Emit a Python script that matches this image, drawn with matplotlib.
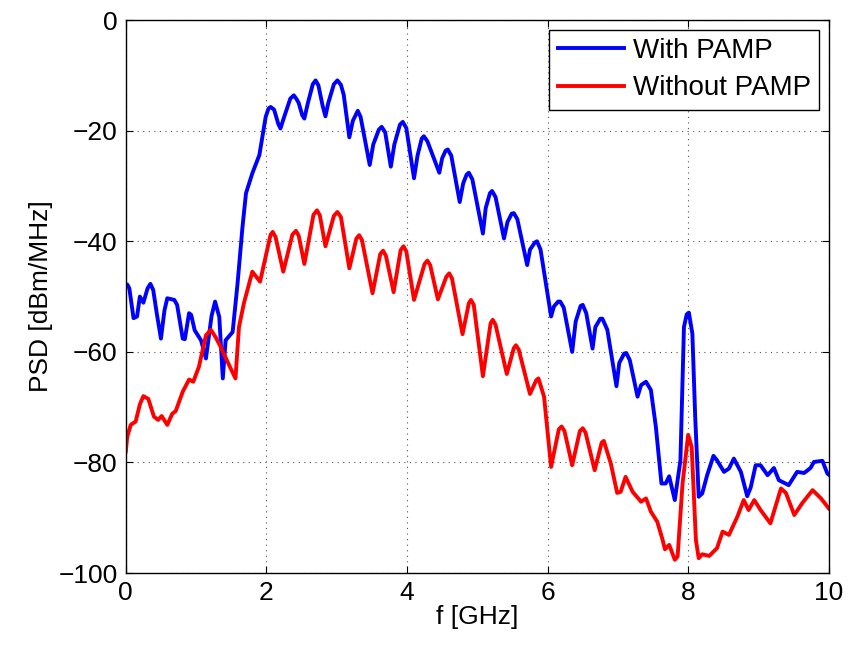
import matplotlib.pyplot as plt

# values (f in GHz, PSD in dBm/MHz)
f_with = [0.00, 0.02, 0.05, 0.11, 0.16, 0.20, 0.25, 0.31, 0.35, 0.39, 0.44, 0.50,
          0.55, 0.59, 0.69, 0.73, 0.81, 0.84, 0.90, 0.93, 0.98, 1.07, 1.14, 1.22,
          1.27, 1.33, 1.38, 1.42, 1.52, 1.59, 1.66, 1.71, 1.80, 1.90, 1.99, 2.03,
          2.06, 2.11, 2.17, 2.20, 2.24, 2.34, 2.39, 2.43, 2.46, 2.51, 2.54, 2.59,
          2.66, 2.70, 2.74, 2.80, 2.84, 2.88, 2.96, 3.01, 3.06, 3.10, 3.18, 3.23,
          3.30, 3.34, 3.47, 3.52, 3.60, 3.64, 3.69, 3.77, 3.82, 3.90, 3.94, 3.99,
          4.10, 4.15, 4.21, 4.24, 4.29, 4.46, 4.50, 4.55, 4.58, 4.63, 4.75, 4.80,
          4.85, 4.88, 4.93, 5.08, 5.12, 5.18, 5.21, 5.26, 5.38, 5.43, 5.49, 5.52,
          5.57, 5.71, 5.75, 5.82, 5.85, 5.90, 6.05, 6.09, 6.15, 6.18, 6.23, 6.35,
          6.40, 6.47, 6.50, 6.55, 6.64, 6.68, 6.75, 6.78, 6.85, 6.98, 7.02, 7.09,
          7.12, 7.17, 7.28, 7.33, 7.40, 7.47, 7.54, 7.62, 7.68, 7.73, 7.81, 7.89,
          7.94, 7.98, 8.01, 8.06, 8.10, 8.15, 8.20, 8.27, 8.36, 8.41, 8.51, 8.58,
          8.65, 8.75, 8.84, 8.89, 8.96, 9.03, 9.13, 9.22, 9.29, 9.43, 9.55, 9.65,
          9.74, 9.79, 9.91, 9.98, 10.00]
psd_with = [-48.0, -47.8, -48.5, -53.9, -53.6, -50.0, -51.1, -48.5, -47.7, -48.8, -53.0, -57.6,
            -52.5, -50.3, -50.6, -51.5, -57.6, -57.7, -53.0, -53.3, -56.1, -57.9, -61.2, -53.5,
            -50.9, -53.7, -64.8, -57.9, -56.4, -47.6, -37.4, -31.3, -27.7, -24.4, -17.5, -16.0,
            -15.7, -16.2, -18.8, -19.6, -18.0, -14.2, -13.6, -14.3, -15.0, -17.2, -17.8, -15.0,
            -11.6, -10.9, -11.8, -15.5, -17.4, -15.0, -11.6, -10.9, -11.7, -13.5, -21.2, -18.2,
            -16.4, -17.5, -26.2, -22.5, -19.8, -19.3, -20.3, -26.5, -22.5, -18.9, -18.4, -19.5,
            -28.6, -24.5, -21.4, -21.0, -21.9, -27.6, -25.0, -23.6, -23.4, -24.5, -32.9, -29.5,
            -27.9, -27.6, -28.8, -38.6, -34.0, -31.3, -30.9, -32.0, -39.5, -36.5, -35.0, -34.9,
            -36.0, -44.3, -41.5, -40.2, -40.0, -41.5, -53.6, -51.8, -50.9, -50.9, -52.0, -60.0,
            -54.5, -51.7, -51.5, -53.0, -59.4, -55.5, -54.0, -54.0, -56.0, -66.2, -62.0, -60.3,
            -60.2, -61.5, -68.1, -66.0, -65.4, -66.9, -73.5, -83.8, -83.8, -82.5, -86.8, -79.6,
            -55.5, -53.2, -52.9, -56.7, -71.7, -86.2, -85.6, -82.3, -78.8, -79.6, -81.7, -81.1,
            -79.3, -81.7, -86.1, -84.5, -80.5, -80.5, -82.3, -81.0, -83.2, -84.1, -81.7, -81.9,
            -81.0, -79.9, -79.7, -82.0, -82.2]

f_without = [0.00, 0.02, 0.07, 0.14, 0.20, 0.25, 0.32, 0.40, 0.46, 0.51, 0.59, 0.66,
             0.71, 0.81, 0.90, 0.96, 1.04, 1.14, 1.21, 1.28, 1.35, 1.47, 1.56, 1.61,
             1.68, 1.80, 1.91, 2.01, 2.06, 2.09, 2.13, 2.24, 2.37, 2.42, 2.46, 2.54,
             2.67, 2.72, 2.76, 2.84, 2.96, 3.01, 3.06, 3.18, 3.28, 3.32, 3.36, 3.51,
             3.62, 3.66, 3.70, 3.81, 3.91, 3.95, 3.99, 4.10, 4.25, 4.29, 4.33, 4.44,
             4.56, 4.60, 4.64, 4.79, 4.88, 4.91, 4.95, 5.08, 5.19, 5.22, 5.26, 5.42,
             5.52, 5.55, 5.59, 5.75, 5.84, 5.87, 5.95, 6.05, 6.16, 6.20, 6.24, 6.35,
             6.46, 6.50, 6.54, 6.67, 6.77, 6.80, 6.90, 6.99, 7.04, 7.11, 7.21, 7.33,
             7.40, 7.47, 7.56, 7.63, 7.67, 7.73, 7.81, 7.85, 7.92, 8.00, 8.05, 8.11,
             8.15, 8.20, 8.30, 8.41, 8.49, 8.58, 8.70, 8.79, 8.86, 8.94, 9.03, 9.17,
             9.32, 9.39, 9.51, 9.62, 9.77, 9.89, 10.00]
psd_without = [-78.0, -75.4, -73.2, -72.6, -69.5, -68.0, -68.5, -71.7, -72.3, -71.6, -73.2, -71.2,
               -70.7, -67.2, -65.0, -65.4, -62.7, -57.0, -56.0, -57.4, -59.1, -62.4, -64.8, -55.5,
               -51.2, -45.5, -47.3, -41.6, -38.8, -38.3, -39.2, -45.5, -38.8, -38.1, -39.0, -44.1,
               -35.2, -34.4, -35.3, -40.9, -35.4, -34.7, -35.6, -44.9, -39.5, -38.9, -39.8, -49.4,
               -42.3, -41.7, -42.6, -49.2, -41.6, -40.9, -41.8, -50.6, -44.1, -43.5, -44.3, -50.5,
               -46.4, -45.8, -46.7, -56.8, -51.2, -50.6, -51.5, -64.4, -54.8, -54.2, -55.1, -64.0,
               -59.3, -58.8, -59.6, -67.6, -65.1, -64.8, -68.1, -80.8, -74.0, -73.5, -74.3, -80.5,
               -74.3, -73.8, -74.6, -81.4, -76.4, -76.1, -80.2, -85.5, -85.3, -82.6, -85.3, -87.1,
               -86.5, -88.9, -90.7, -93.7, -95.7, -94.9, -97.6, -97.0, -83.8, -75.0, -77.2, -94.0,
               -97.3, -96.6, -96.9, -95.5, -92.5, -93.1, -89.8, -86.8, -88.6, -86.8, -88.6, -91.0,
               -84.7, -85.5, -89.5, -87.4, -85.0, -86.5, -88.3]

series_labels = ["With PAMP", "Without PAMP"]
x_ticks = [0, 2, 4, 6, 8, 10]
y_ticks = [-100, -80, -60, -40, -20, 0]

plt.rcParams["font.family"] = ["Liberation Sans", "DejaVu Sans"]
font_size = 19

fig = plt.figure(figsize=(8.5, 6.49), dpi=100)
ax = fig.add_axes([0.148, 0.117, 0.827, 0.852])

ax.plot(f_with, psd_with, color=(0, 0, 1), linewidth=2.8, label=series_labels[0])
ax.plot(f_without, psd_without, color=(1, 0, 0), linewidth=2.8, label=series_labels[1])

ax.set_xlim(0, 10)
ax.set_ylim(-100, 0)
ax.set_xticks(x_ticks)
ax.set_yticks(y_ticks)
ax.set_yticklabels([str(v).replace("-", "\u2212") for v in y_ticks])
ax.tick_params(direction="in", labelsize=font_size, length=5, width=0.8, top=True, right=True, pad=6)
ax.grid(True, linestyle=(0, (1, 4)), color="#555555", linewidth=0.8)
for spine in ax.spines.values():
    spine.set_linewidth(1.0)

ax.set_xlabel("f [GHz]", fontsize=font_size, labelpad=0)
ax.set_ylabel("PSD [dBm/MHz]", fontsize=font_size, labelpad=4)

legend = ax.legend(loc="upper right", fontsize=20, frameon=True, fancybox=False,
                   edgecolor="black", framealpha=1, handlelength=2.4, handletextpad=0.3,
                   borderpad=0.3, labelspacing=0.4, borderaxespad=0.35)
legend.get_frame().set_linewidth(1.0)

fig.savefig("out.png", dpi=100)
